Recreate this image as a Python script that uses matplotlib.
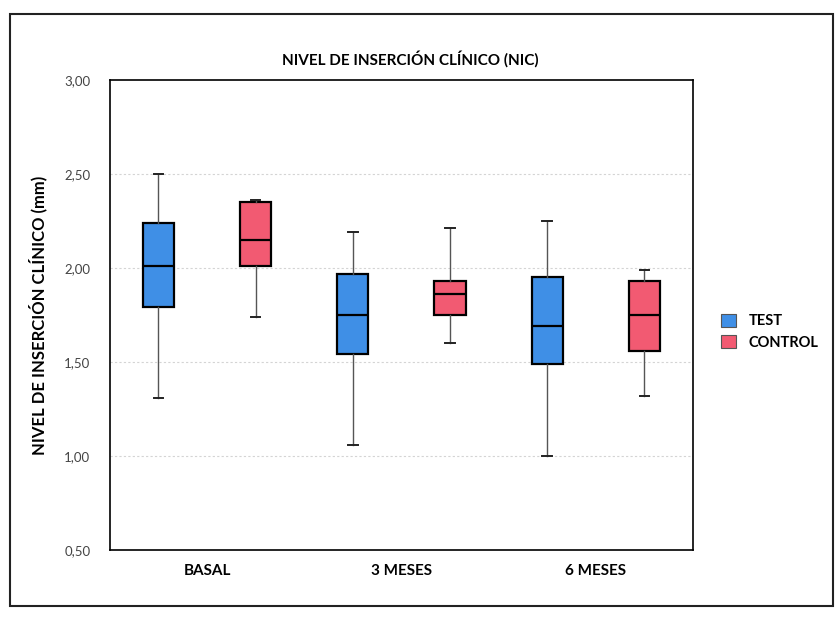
import matplotlib.pyplot as plt
from matplotlib.patches import Patch, Rectangle
from matplotlib.ticker import FuncFormatter

plt.rcParams['font.family'] = ['Lato', 'DejaVu Sans']

# datos del NIC por tiempo (mm)
periodos = ['BASAL', '3 MESES', '6 MESES']
grupos = ['TEST', 'CONTROL']
colores = {'TEST': '#3f8fe6', 'CONTROL': '#f25a72'}

test_min = [1.31, 1.06, 1.00]
test_q1 = [1.79, 1.54, 1.49]
test_med = [2.01, 1.75, 1.69]
test_q3 = [2.24, 1.97, 1.95]
test_max = [2.50, 2.19, 2.25]

ctrl_min = [1.74, 1.60, 1.32]
ctrl_q1 = [2.01, 1.75, 1.56]
ctrl_med = [2.15, 1.86, 1.75]
ctrl_q3 = [2.35, 1.93, 1.93]
ctrl_max = [2.36, 2.21, 1.99]

yticks = [0.5, 1.0, 1.5, 2.0, 2.5, 3.0]


def stats(mins, q1s, meds, q3s, maxs):
    out = []
    for lo, a, m, b, hi in zip(mins, q1s, meds, q3s, maxs):
        out.append({'whislo': lo, 'q1': a, 'med': m, 'q3': b,
                    'whishi': hi, 'fliers': []})
    return out


fig = plt.figure(figsize=(8.38, 6.2), dpi=100)
ax = fig.add_axes([0.131, 0.113, 0.696, 0.758])

centros = [0, 1, 2]
desp = 0.25
series = [('TEST', stats(test_min, test_q1, test_med, test_q3, test_max), -desp),
          ('CONTROL', stats(ctrl_min, ctrl_q1, ctrl_med, ctrl_q3, ctrl_max), desp)]

for nombre, st, d in series:
    bp = ax.bxp(st, positions=[c + d for c in centros], widths=0.16,
                patch_artist=True, showfliers=False, capwidths=0.05,
                boxprops=dict(facecolor=colores[nombre], edgecolor='black', linewidth=1.6),
                medianprops=dict(color='black', linewidth=1.6),
                whiskerprops=dict(color='#555555', linewidth=1.0),
                capprops=dict(color='#222222', linewidth=1.4))

ax.set_xlim(-0.5, 2.5)
ax.set_ylim(0.5, 3.0)
ax.set_xticks(centros)
ax.set_xticklabels(periodos, fontsize=11, fontweight='bold')
ax.set_yticks(yticks)
ax.yaxis.set_major_formatter(FuncFormatter(lambda v, p: f'{v:.2f}'.replace('.', ',')))
ax.tick_params(axis='y', length=0, pad=14, labelsize=9.5, labelcolor='#444444')
ax.tick_params(axis='x', length=0, pad=10)
for y in yticks[1:-1]:
    ax.axhline(y, color='#d4d4d4', linestyle=(0, (2, 2)), linewidth=0.8, zorder=0)
for s in ax.spines.values():
    s.set_linewidth(1.2)
    s.set_color('black')

ax.set_ylabel('NIVEL DE INSERCIÓN CLÍNICO (mm)', fontsize=12, fontweight='bold', labelpad=12)
fig.text(0.49, 0.905, 'NIVEL DE INSERCIÓN CLÍNICO (NIC)', ha='center', va='center',
         fontsize=11, fontweight='bold')

handles = [Patch(facecolor=colores[g], edgecolor='#555555', linewidth=0.8) for g in grupos]
fig.legend(handles, grupos, loc='center left', bbox_to_anchor=(0.845, 0.465),
           frameon=False, prop=dict(size=10.5, weight='bold'),
           handlelength=1.0, handleheight=1.0, handletextpad=0.9, labelspacing=0.5)

# marco exterior
fig.patches.append(Rectangle((0.012, 0.022), 0.982, 0.955, transform=fig.transFigure,
                             fill=False, edgecolor='#222222', linewidth=1.5))

fig.savefig('out.png', dpi=100)
